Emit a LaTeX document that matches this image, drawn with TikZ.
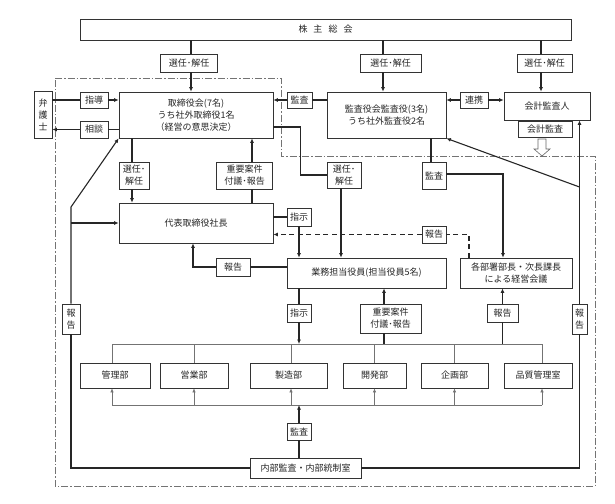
\documentclass[tikz,border=0pt]{standalone}
\usepackage{fontspec}
\newfontfamily\jp{Noto Sans CJK JP}
\usetikzlibrary{arrows.meta,shadows,calc}
\begin{document}
\begin{tikzpicture}[x=1pt,y=-1pt,
  font=\jp\fontsize{9}{12}\selectfont,
  bx/.style={draw=black!80, line width=0.7pt, fill=white, inner sep=0pt, align=center, text=black!85,
    general shadow={fill=black!40, shadow xshift=0.7pt, shadow yshift=-0.7pt}},
  ln/.style={line width=1.1pt, draw=black!85},
  conn/.style={ln, -{Latex[length=4.5pt,width=4pt]}},
  bus/.style={line width=0.6pt, draw=black!55},
  busar/.style={bus, -{Latex[length=4pt,width=3.5pt]}},
]
\useasboundingbox (0,0) rectangle (615,503);
% frame of the company
\draw[black!55, line width=0.7pt, dash pattern=on 7pt off 2pt on 1.5pt off 2pt]
  (55,78) -- (281,78) -- (281,156) -- (595,156) -- (595,486) -- (55,486) -- cycle;

% nodes
\node[bx, minimum width=491pt, minimum height=21pt] (gm) at (325.5,29.5) {株\hspace{6pt}主\hspace{6pt}総\hspace{6pt}会};
\node[bx, minimum width=57pt, minimum height=18pt] (s1) at (189,63) {選任･解任};
\node[bx, minimum width=61pt, minimum height=18pt] (s2) at (390.5,63) {選任･解任};
\node[bx, minimum width=55pt, minimum height=18pt] (s3) at (544.5,63) {選任･解任};

\node[bx, minimum width=154pt, minimum height=46pt] (board) at (196,115) {取締役会(7名)\\うち社外取締役1名\\（経営の意思決定）};
\node[bx, minimum width=18pt, minimum height=47pt] (lawyer) at (43,114.5) {弁\\護\\士};
\node[bx, minimum width=28pt, minimum height=16pt] (shido) at (94,100) {指導};
\node[bx, minimum width=28pt, minimum height=17pt] (sodan) at (94,129.5) {相談};
\node[bx, minimum width=25pt, minimum height=16pt] (ka1) at (299.5,100) {監査};
\node[bx, minimum width=119pt, minimum height=46pt] (aud) at (386.5,115) {監査役会監査役(3名)\\うち社外監査役2名};
\node[bx, minimum width=28pt, minimum height=16pt] (renkei) at (474,100) {連携};
\node[bx, minimum width=86pt, minimum height=28pt] (acc) at (547,106) {会計監査人};
\node[bx, minimum width=54pt, minimum height=16pt] (kk) at (545,129) {会計監査};

\node[bx, minimum width=30pt, minimum height=27pt] (s4) at (134,175.5) {選任･\\解任};
\node[bx, minimum width=56pt, minimum height=27pt] (j1) at (244.5,175.5) {重要案件\\付議･報告};
\node[bx, minimum width=34pt, minimum height=26pt] (s5) at (344,175) {選任･\\解任};
\node[bx, minimum width=24pt, minimum height=27pt] (ka2) at (434,175.5) {監査};

\node[bx, minimum width=154pt, minimum height=40pt] (pres) at (196,223) {代表取締役社長};
\node[bx, minimum width=24pt, minimum height=18pt] (sj1) at (299,217) {指示};
\node[bx, minimum width=24pt, minimum height=17pt] (hd) at (434,234.5) {報告};

\node[bx, minimum width=159pt, minimum height=30pt] (gyomu) at (366.5,273) {業務担当役員(担当役員5名)};
\node[bx, minimum width=112pt, minimum height=30pt] (meet) at (516,273) {各部署部長・次長課長\\による経営会議};
\node[bx, minimum width=34pt, minimum height=18pt] (h2) at (233,267) {報告};

\node[bx, minimum width=24pt, minimum height=18pt] (sj2) at (299,313) {指示};
\node[bx, minimum width=61pt, minimum height=29pt] (j2) at (390.5,318.5) {重要案件\\付議･報告};
\node[bx, minimum width=31pt, minimum height=18pt] (h3) at (502.5,313) {報告};
\node[bx, minimum width=18pt, minimum height=30pt] (hL) at (71,319) {報\\告};
\node[bx, minimum width=15pt, minimum height=30pt] (hR) at (579.5,319) {報\\告};

\node[bx, minimum width=70pt, minimum height=25pt] (d1) at (115,375.5) {管理部};
\node[bx, minimum width=68pt, minimum height=25pt] (d2) at (194,375.5) {営業部};
\node[bx, minimum width=77pt, minimum height=25pt] (d3) at (288.5,375.5) {製造部};
\node[bx, minimum width=63pt, minimum height=25pt] (d4) at (374.5,375.5) {開発部};
\node[bx, minimum width=67pt, minimum height=25pt] (d5) at (454.5,375.5) {企画部};
\node[bx, minimum width=68pt, minimum height=25pt] (d6) at (538,375.5) {品質管理室};

\node[bx, minimum width=24pt, minimum height=17pt] (ka3) at (299,431.5) {監査};
\node[bx, minimum width=111pt, minimum height=20pt] (ia) at (305.5,468) {内部監査・内部統制室};

\coordinate (busT) at (0,344);
\coordinate (busB) at (0,405);
\coordinate (kL) at (71,207);
\coordinate (kR) at (579.5,187);

% shareholders
\draw[ln] ([xshift=2pt]s1.north |- gm.south) -- ([xshift=2pt]s1.north);
\draw[conn] ([xshift=2pt]s1.south) -- ([xshift=2pt]s1.south |- board.north);
\draw[ln] ([xshift=-7.5pt]s2.north |- gm.south) -- ([xshift=-7.5pt]s2.north);
\draw[conn] ([xshift=-7.5pt]s2.south) -- ([xshift=-7.5pt]s2.south |- aud.north);
\draw[ln] ([xshift=-3.5pt]s3.north |- gm.south) -- ([xshift=-3.5pt]s3.north);
\draw[conn] ([xshift=-3.5pt]s3.south) -- ([xshift=-3.5pt]s3.south |- acc.north);

% lawyer
\draw[ln] (lawyer.east |- shido) -- (shido.west);
\draw[conn] (shido.east) -- (shido.east -| board.west);
\draw[ln] (board.west |- sodan) -- (sodan.east);
\draw[conn] (sodan.west) -- (sodan.west -| lawyer.east);

% auditors
\draw[ln] (aud.west |- ka1) -- (ka1.east);
\draw[conn] (ka1.west) -- (ka1.west -| board.east);
\draw[conn] (renkei.west) -- (renkei.west -| aud.east);
\draw[conn] (renkei.east) -- (renkei.east -| acc.west);
\draw[black!60, line width=0.6pt, fill=white]
  (538,139) -- (546,139) -- (546,149) -- (550,149) -- (542,156) -- (534,149) -- (538,149) -- cycle;

% board <-> president
\draw[ln] ([xshift=-2pt]s4.north |- board.south) -- ([xshift=-2pt]s4.north);
\draw[conn] ([xshift=-2pt]s4.south) -- ([xshift=-2pt]s4.south |- pres.north);
\draw[ln] ([xshift=7.5pt]j1.south |- pres.north) -- ([xshift=7.5pt]j1.south);
\draw[conn] ([xshift=7.5pt]j1.north) -- ([xshift=7.5pt]j1.north |- board.south);

% board -> gyomu
\draw[ln] ([yshift=-12pt]board.east) -- ++(27,0) |- (s5.west);
\draw[conn] ([xshift=-3pt]s5.south) -- ([xshift=-3pt]s5.south |- gyomu.north);

% auditors -> meeting
\draw[ln] ([xshift=-3pt]ka2.north |- aud.south) -- ([xshift=-3pt]ka2.north);
\draw[conn] ([yshift=1.5pt]ka2.east) -| ([xshift=-13pt]meet.north);

% president -> gyomu
\draw[ln] (sj1.west -| pres.east) -- (sj1.west);
\draw[conn] (sj1.south) -- (sj1.south |- gyomu.north);

% meeting -> president (dashed)
\draw[ln, dash pattern=on 5pt off 3.5pt] ([xshift=-47pt]meet.north) |- (hd.east);
\draw[conn, dash pattern=on 5pt off 3.5pt] (hd.west) -- (hd.west -| pres.east);

% gyomu -> president
\draw[ln] (gyomu.west |- h2) -- (h2.east);
\draw[conn] (h2.west) -| ([xshift=-3pt]pres.south);

% gyomu <-> departments
\draw[ln] (sj2.north |- gyomu.south) -- (sj2.north);
\draw[conn] (sj2.south) -- (sj2.south |- busT);
\draw[conn] ([xshift=-6.5pt]j2.north) -- ([xshift=-6.5pt]j2.north |- gyomu.south);
\draw[ln] ([xshift=-6.5pt]j2.south) -- ([xshift=-6.5pt]j2.south |- busT);
\draw[conn] (h3.north) -- (h3.north |- meet.south);
\draw[ln] (h3.south) -- (h3.south |- busT);

% buses
\draw[bus] ([xshift=-3pt]d1.north |- busT) -- ([xshift=4pt]d6.north |- busT);
\draw[bus] ([xshift=-3pt]d1.north |- busT) -- ([xshift=-3pt]d1.north);
\draw[bus] (d2.north |- busT) -- (d2.north);
\draw[bus] ([xshift=2.5pt]d3.north |- busT) -- ([xshift=2.5pt]d3.north);
\draw[bus] (d4.north |- busT) -- (d4.north);
\draw[bus] (d5.north |- busT) -- (d5.north);
\draw[bus] ([xshift=4pt]d6.north |- busT) -- ([xshift=4pt]d6.north);

\draw[bus] ([xshift=-3pt]d1.south |- busB) -- ([xshift=4pt]d6.south |- busB);
\draw[busar] ([xshift=-3pt]d1.south |- busB) -- ([xshift=-3pt]d1.south);
\draw[busar] (d2.south |- busB) -- (d2.south);
\draw[busar] ([xshift=2.5pt]d3.south |- busB) -- ([xshift=2.5pt]d3.south);
\draw[busar] (d4.south |- busB) -- (d4.south);
\draw[busar] (d5.south |- busB) -- (d5.south);
\draw[busar] ([xshift=4pt]d6.south |- busB) -- ([xshift=4pt]d6.south);

% internal audit
\draw[ln] (ia.north -| ka3) -- (ka3.south);
\draw[conn] (ka3.north) -- (ka3.north |- busB);
\draw[ln] (ia.west) -| (hL.south);
\draw[conn] (hL.north) -- (kL) -- (board.south west);
\draw[conn] (hL.north |- pres.west) -- (pres.west);
\draw[ln] (ia.east) -| (hR.south);
\draw[conn] (hR.north) -- (hR.north |- acc.south);
\draw[conn] (kR) -- (aud.south east);
\end{tikzpicture}
\end{document}
